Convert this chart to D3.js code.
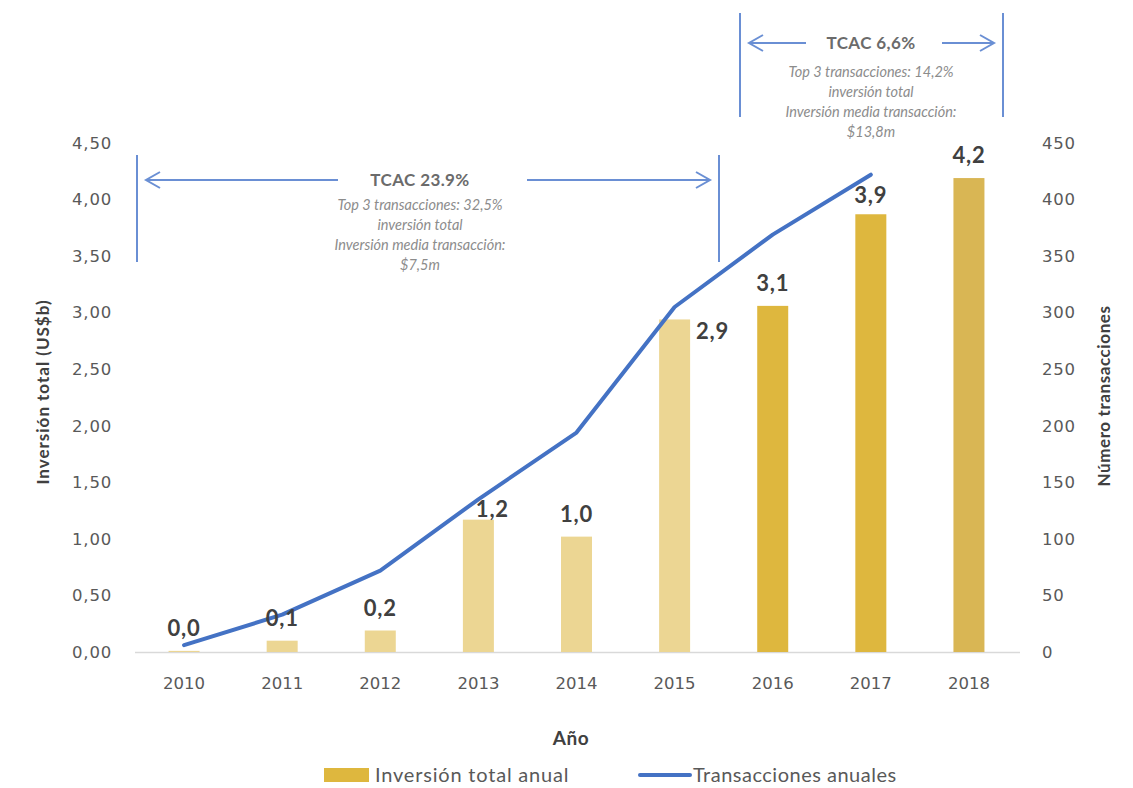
<!DOCTYPE html>
<html>
<head>
<meta charset="utf-8">
<script src="https://cdn.jsdelivr.net/npm/d3@7"></script>
<style>
  html, body { margin: 0; padding: 0; background: #ffffff; }
  svg { display: block; font-family: Lato, "Open Sans", sans-serif; }
</style>
</head>
<body>
<svg id="chart" width="1133" height="788"></svg>
<script>
// Years on the x axis
const years = ["2010", "2011", "2012", "2013", "2014", "2015", "2016", "2017", "2018"];
// Total annual investment (US$ billions)
const investment = [0.01, 0.10, 0.19, 1.17, 1.02, 2.94, 3.06, 3.87, 4.19];
// Number of transactions per year (no figure for 2018)
const transactions = [6, 33, 72, 135, 194, 305, 369, 422];
// Axis ticks
const leftTicks = [0, 0.5, 1, 1.5, 2, 2.5, 3, 3.5, 4, 4.5];
const rightTicks = [0, 50, 100, 150, 200, 250, 300, 350, 400, 450];
// Period annotations
const periods = [
  { from: "2010", to: "2015", title: "TCAC 23.9%",
    lines: ["Top 3 transacciones: 32,5%", "inversión total", "Inversión media transacción:", "$7,5m"] },
  { from: "2016", to: "2018", title: "TCAC 6,6%",
    lines: ["Top 3 transacciones: 14,2%", "inversión total", "Inversión media transacción:", "$13,8m"] }
];

const svg = d3.select("#chart");
const plot = { left: 135, right: 1018, top: 143, bottom: 652 };

const x = d3.scaleBand().domain(years).range([plot.left, plot.right])
  .paddingInner(0.684).paddingOuter(0.342);
const yL = d3.scaleLinear().domain([0, 4.5]).range([plot.bottom, plot.top]);
const yR = d3.scaleLinear().domain([0, 450]).range([plot.bottom, plot.top]);
const cx = d => x(d) + x.bandwidth() / 2;

const fmtAxis = v => d3.format(".2f")(v).replace(".", ",");
const fmtLabel = v => d3.format(".1f")(v).replace(".", ",");

const tickFont = "'DejaVu Sans', sans-serif";

// Bar fill by year: earlier years light, later years saturated
function barColor(i) {
  if (i <= 5) return "#ECD693";
  if (i <= 7) return "#DEB73E";
  return "#D9B654";
}

// Left axis
const leftAxis = d3.axisLeft(yL).tickValues(leftTicks).tickFormat(fmtAxis).tickSize(0).tickPadding(0);
const gl = svg.append("g").attr("transform", "translate(112,0)").call(leftAxis);
gl.select(".domain").remove();
gl.selectAll("text").attr("fill", "#595959").style("font-size", "16.5px")
  .style("font-family", tickFont).style("letter-spacing", "0.8px");

// Right axis
const rightAxis = d3.axisRight(yR).tickValues(rightTicks).tickFormat(d3.format("d")).tickSize(0).tickPadding(0);
const gr = svg.append("g").attr("transform", "translate(1042,0)").call(rightAxis);
gr.select(".domain").remove();
gr.selectAll("text").attr("fill", "#595959").style("font-size", "16.5px")
  .style("font-family", tickFont).style("letter-spacing", "0.8px");

// Baseline
svg.append("line")
  .attr("x1", 135).attr("x2", 1020)
  .attr("y1", plot.bottom + 0.5).attr("y2", plot.bottom + 0.5)
  .attr("stroke", "#D9D9D9").attr("stroke-width", 1.5);

// Bottom axis (year labels)
const bottomAxis = d3.axisBottom(x).tickSize(0).tickPadding(0);
const gb = svg.append("g").attr("transform", `translate(0,${plot.bottom + 25})`).call(bottomAxis);
gb.select(".domain").remove();
gb.selectAll("text").attr("fill", "#595959").style("font-size", "16.5px").style("font-family", tickFont);

// Bars
svg.append("g").selectAll("rect")
  .data(investment)
  .join("rect")
  .attr("x", (d, i) => x(years[i]))
  .attr("width", x.bandwidth())
  .attr("y", d => yL(d))
  .attr("height", d => plot.bottom - yL(d))
  .attr("fill", (d, i) => barColor(i));

// Transactions line
const line = d3.line()
  .x((d, i) => cx(years[i]))
  .y(d => yR(d));
svg.append("path")
  .datum(transactions)
  .attr("d", line)
  .attr("fill", "none")
  .attr("stroke", "#4472C4")
  .attr("stroke-width", 4)
  .attr("stroke-linecap", "round")
  .attr("stroke-linejoin", "round");

// Value labels above bars; a few are shifted clear of the line
const labelShift = { "2013": [14, 12], "2015": [38, 35], "2017": [0, 4] };
svg.append("g").selectAll("text")
  .data(investment)
  .join("text")
  .attr("x", (d, i) => cx(years[i]) + (labelShift[years[i]] ? labelShift[years[i]][0] : 0))
  .attr("y", (d, i) => yL(d) - 15 + (labelShift[years[i]] ? labelShift[years[i]][1] : 0))
  .attr("text-anchor", "middle")
  .attr("fill", "#404040")
  .style("font-size", "22px")
  .style("font-weight", "bold")
  .style("letter-spacing", "0.8px")
  .text(d => fmtLabel(d));

// Axis titles
svg.append("text")
  .attr("transform", "translate(49,392) rotate(-90)")
  .attr("text-anchor", "middle")
  .attr("fill", "#404040")
  .style("font-size", "17px").style("font-weight", "bold").style("letter-spacing", "1px")
  .text("Inversión total (US$b)");
svg.append("text")
  .attr("transform", "translate(1110,396) rotate(-90)")
  .attr("text-anchor", "middle")
  .attr("fill", "#404040")
  .style("font-size", "17px").style("font-weight", "bold").style("letter-spacing", "0.6px")
  .text("Número transacciones");
svg.append("text")
  .attr("x", 571).attr("y", 745)
  .attr("text-anchor", "middle")
  .attr("fill", "#404040")
  .style("font-size", "19px").style("font-weight", "bold").style("letter-spacing", "0.5px")
  .text("Año");

// Period brackets with arrows and notes
const annColor = "#6A8FD4";
const brackets = [
  { x1: 137, x2: 719, yTop: 155, yBot: 262, arrowY: 180, gapL: 338, gapR: 527, textX: 420, noteY: 210 },
  { x1: 740, x2: 1003, yTop: 13, yBot: 117, arrowY: 43, gapL: 806, gapR: 942, textX: 871, noteY: 77 }
];
periods.forEach((p, k) => {
  const b = brackets[k];
  const g = svg.append("g");
  [b.x1, b.x2].forEach(xx => g.append("line")
    .attr("x1", xx).attr("x2", xx).attr("y1", b.yTop).attr("y2", b.yBot)
    .attr("stroke", annColor).attr("stroke-width", 2));
  const tipL = b.x1 + 9, tipR = b.x2 - 9;
  g.append("line").attr("x1", tipL).attr("x2", b.gapL).attr("y1", b.arrowY).attr("y2", b.arrowY)
    .attr("stroke", annColor).attr("stroke-width", 2);
  g.append("line").attr("x1", b.gapR).attr("x2", tipR).attr("y1", b.arrowY).attr("y2", b.arrowY)
    .attr("stroke", annColor).attr("stroke-width", 2);
  g.append("path")
    .attr("d", `M${tipL + 14},${b.arrowY - 8} L${tipL},${b.arrowY} L${tipL + 14},${b.arrowY + 8}`)
    .attr("fill", "none").attr("stroke", annColor).attr("stroke-width", 2);
  g.append("path")
    .attr("d", `M${tipR - 14},${b.arrowY - 8} L${tipR},${b.arrowY} L${tipR - 14},${b.arrowY + 8}`)
    .attr("fill", "none").attr("stroke", annColor).attr("stroke-width", 2);
  g.append("text")
    .attr("x", b.textX).attr("y", b.arrowY + 6)
    .attr("text-anchor", "middle").attr("fill", "#6B6B6B")
    .style("font-size", "17px").style("font-weight", "bold").style("letter-spacing", "0.4px")
    .text(p.title);
  p.lines.forEach((t, j) => g.append("text")
    .attr("x", b.textX).attr("y", b.noteY + j * 20)
    .attr("text-anchor", "middle").attr("fill", "#8C8C8C")
    .style("font-size", "14.5px").style("font-style", "italic")
    .text(t));
});

// Legend
const lg = svg.append("g");
lg.append("rect").attr("x", 324).attr("y", 768).attr("width", 45).attr("height", 14).attr("fill", "#DEB73E");
lg.append("text").attr("x", 375).attr("y", 782).attr("fill", "#595959")
  .style("font-size", "20px").style("letter-spacing", "0.8px").text("Inversión total anual");
lg.append("line").attr("x1", 640).attr("x2", 690).attr("y1", 775).attr("y2", 775)
  .attr("stroke", "#4472C4").attr("stroke-width", 4).attr("stroke-linecap", "round");
lg.append("text").attr("x", 693).attr("y", 782).attr("fill", "#595959")
  .style("font-size", "20px").style("letter-spacing", "0.5px").text("Transacciones anuales");
</script>
</body>
</html>
